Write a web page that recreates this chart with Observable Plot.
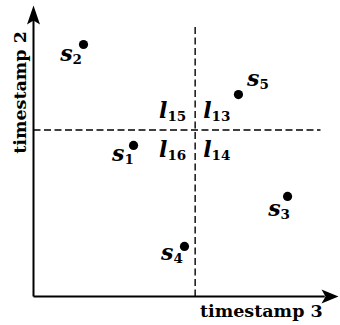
<!DOCTYPE html>
<html>
<head>
<meta charset="utf-8">
<script src="https://cdn.jsdelivr.net/npm/d3@7"></script>
<script src="https://cdn.jsdelivr.net/npm/@observablehq/plot@0.6"></script>
<style>
  html, body { margin: 0; padding: 0; background: #fff; }
  #chart svg { display: block; overflow: visible; }
</style>
</head>
<body>
<div id="chart"></div>
<script>
// Points (data units, axes 0..10)
const pointNames = ["s1", "s2", "s3", "s4", "s5"];
const pointX = [3.28, 1.64, 8.33, 4.95, 6.72];
const pointY = [5.19, 8.66, 3.44, 1.72, 6.94];

// Labels: letter + subscript, anchored at the junction (x) and letter baseline (y)
const labelLetters = ["s", "s", "s", "s", "s", "l", "l", "l", "l"];
const labelSubs = ["1", "2", "3", "4", "5", "13", "14", "15", "16"];
const labelX = [2.98, 1.28, 8.10, 4.59, 7.41, 5.84, 5.84, 4.39, 4.39];
const labelY = [4.67, 8.08, 2.78, 1.24, 7.25, 6.12, 4.78, 6.12, 4.78];

// Dashed divider lines
const dividerX = 5.30;      // vertical line position
const dividerXTop = 9.35;   // vertical line top
const dividerY = 5.72;      // horizontal line position
const dividerYRight = 9.41; // horizontal line right end

// Axis ends and titles
const axisMax = 10;
const xTitle = "timestamp 3";
const yTitle = "timestamp 2";

const points = pointNames.map((n, i) => ({name: n, x: pointX[i], y: pointY[i]}));
const labels = labelLetters.map((l, i) => ({letter: l, sub: labelSubs[i], x: labelX[i], y: labelY[i]}));

const arrowUp = {draw(ctx) { ctx.moveTo(0, 0); ctx.lineTo(6.5, 19); ctx.lineTo(0, 15); ctx.lineTo(-6.5, 19); ctx.closePath(); }};
const arrowRight = {draw(ctx) { ctx.moveTo(0, 0); ctx.lineTo(-17, -7); ctx.lineTo(-13, 0); ctx.lineTo(-17, 7); ctx.closePath(); }};

const chart = Plot.plot({
  width: 340,
  height: 325,
  marginLeft: 33,
  marginRight: 2,
  marginTop: 5,
  marginBottom: 29,
  x: {domain: [0, axisMax], axis: null},
  y: {domain: [0, axisMax], axis: null},
  style: {background: "#fff", color: "#000"},
  marks: [
    // axes
    Plot.link([{x1: 0, y1: 0, x2: 0, y2: axisMax - 0.5}, {x1: 0, y1: 0, x2: axisMax - 0.45, y2: 0}],
      {x1: "x1", y1: "y1", x2: "x2", y2: "y2", stroke: "black", strokeWidth: 2}),
    Plot.dot([{x: 0, y: axisMax}], {x: "x", y: "y", symbol: arrowUp, fill: "black", stroke: "none"}),
    Plot.dot([{x: axisMax, y: 0}], {x: "x", y: "y", symbol: arrowRight, fill: "black", stroke: "none"}),
    // dashed dividers
    Plot.link([{x1: dividerX, y1: 0, x2: dividerX, y2: dividerXTop}, {x1: 0, y1: dividerY, x2: dividerYRight, y2: dividerY}],
      {x1: "x1", y1: "y1", x2: "x2", y2: "y2", stroke: "black", strokeWidth: 1.4, strokeDasharray: "7,3.5"}),
    // points
    Plot.dot(points, {x: "x", y: "y", r: 4.6, fill: "black", stroke: "none"}),
    // labels
    Plot.text(labels, {x: "x", y: "y", text: "letter", textAnchor: "end", lineAnchor: "bottom",
      fontFamily: "DejaVu Serif", fontStyle: "italic", fontWeight: "bold", fontSize: 22, fill: "black"}),
    Plot.text(labels, {x: "x", y: "y", text: "sub", textAnchor: "start", lineAnchor: "bottom", dy: 3,
      fontFamily: "DejaVu Serif", fontWeight: "bold", fontSize: 13.5, fill: "black"}),
    // axis titles
    Plot.text([xTitle], {x: 9.48, y: -0.69, text: d => d, textAnchor: "end", lineAnchor: "bottom",
      fontFamily: "DejaVu Serif", fontWeight: "bold", fontSize: 17.5, fill: "black"}),
    Plot.text([yTitle], {x: -0.26, y: 7.01, text: d => d, rotate: -90, textAnchor: "middle", lineAnchor: "bottom",
      fontFamily: "DejaVu Serif", fontWeight: "bold", fontSize: 17.5, fill: "black"})
  ]
});
document.getElementById("chart").append(chart);
</script>
</body>
</html>
